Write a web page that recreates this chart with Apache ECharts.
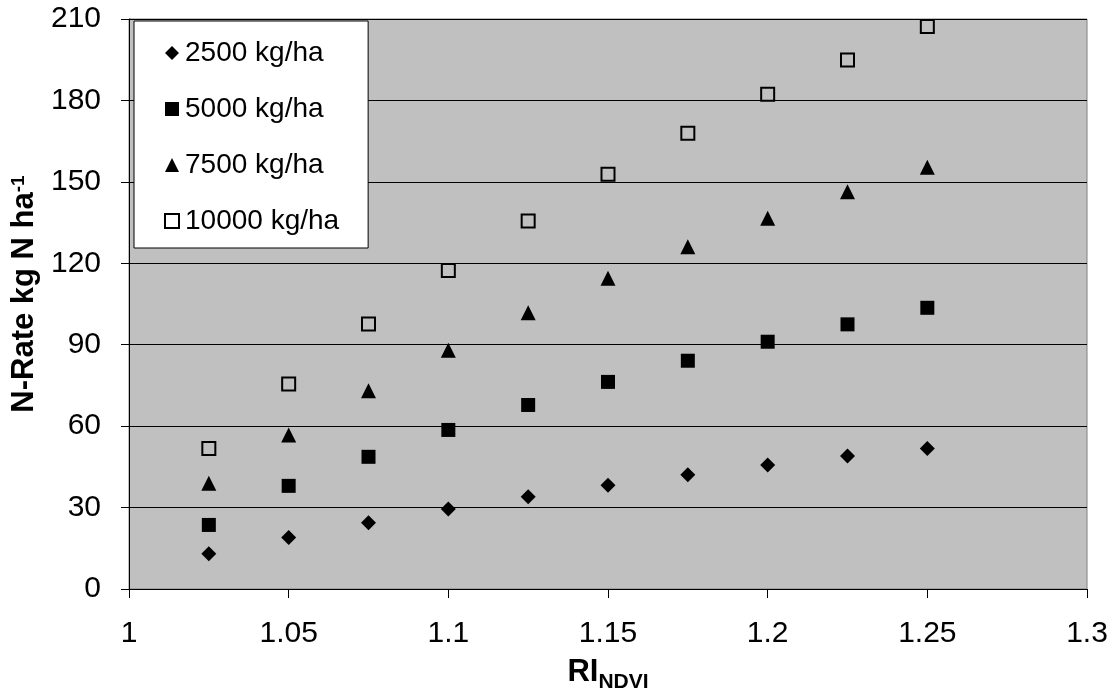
<!DOCTYPE html>
<html>
<head>
<meta charset="utf-8">
<script src="https://cdn.jsdelivr.net/npm/echarts@6/dist/echarts.min.js"></script>
<style>
  html, body { margin: 0; padding: 0; background: #ffffff; }
  #chart { width: 1115px; height: 698px; }
</style>
</head>
<body>
<div id="chart"></div>
<script>
// RI_NDVI values at which N rates were computed
const riNdvi = [1.025, 1.05, 1.075, 1.1, 1.125, 1.15, 1.175, 1.2, 1.225, 1.25];

// N rate (kg N/ha) for each yield potential level
const rate2500  = [13.0, 19.0, 24.4, 29.5, 34.0, 38.2, 42.1, 45.7, 49.0, 51.8];
const rate5000  = [23.6, 38.0, 48.7, 58.6, 67.8, 76.3, 84.1, 91.1, 97.5, 103.6];
const rate7500  = [39.0, 56.7, 73.0, 88.0, 101.8, 114.5, 126.1, 136.6, 146.4, 155.4];
const rate10000 = [51.8, 75.5, 97.6, 117.3, 135.6, 152.8, 167.9, 182.3, 194.9, 207.2];

const seriesNames = ['2500 kg/ha', '5000 kg/ha', '7500 kg/ha', '10000 kg/ha'];

// Axis ranges and tick steps
const xMin = 1, xMax = 1.3, xStep = 0.05;
const yMin = 0, yMax = 210, yStep = 30;

const FONT = '"Liberation Sans", Arial, Helvetica, sans-serif';

function pairs(ys) {
  return riNdvi.map((x, i) => [x, ys[i]]);
}

const chart = echarts.init(document.getElementById('chart'), null, { renderer: 'canvas' });

chart.setOption({
  animation: false,
  backgroundColor: '#ffffff',
  grid: {
    left: 129, right: 28, top: 19, bottom: 109,
    show: true,
    backgroundColor: '#c0c0c0',
    borderColor: '#808080',
    borderWidth: 1
  },
  legend: {
    orient: 'vertical',
    left: 134, top: 21,
    padding: [18, 29, 13, 30],
    itemGap: 28,
    itemWidth: 14, itemHeight: 14,
    backgroundColor: '#ffffff',
    borderColor: '#000000',
    borderWidth: 1,
    borderRadius: 0,
    textStyle: { fontFamily: FONT, fontSize: 28, color: '#000000', lineHeight: 28, padding: [0, 0, 0, 1] },
    data: seriesNames
  },
  xAxis: {
    type: 'value',
    min: xMin, max: xMax, interval: xStep,
    name: '{a|RI}{b|NDVI}',
    nameLocation: 'middle',
    nameGap: 68,
    nameTextStyle: {
      rich: {
        a: { fontFamily: FONT, fontSize: 31, fontWeight: 'bold', color: '#000', verticalAlign: 'top' },
        b: { fontFamily: FONT, fontSize: 21, fontWeight: 'bold', color: '#000', verticalAlign: 'top', padding: [15, 0, 0, 0] }
      }
    },
    axisLine: { show: true, onZero: false, lineStyle: { color: '#000000', width: 1 } },
    axisTick: { show: true, inside: false, length: 9, lineStyle: { color: '#000000', width: 1 } },
    axisLabel: { fontFamily: FONT, fontSize: 30, color: '#000000', margin: 30 },
    splitLine: { show: false }
  },
  yAxis: {
    type: 'value',
    min: yMin, max: yMax, interval: yStep,
    name: '{a|N-Rate kg N ha}{s|-1}',
    nameLocation: 'middle',
    nameGap: 77,
    nameRotate: 90,
    nameTextStyle: {
      padding: [0, 0, 0, 20],
      rich: {
        a: { fontFamily: FONT, fontSize: 31, fontWeight: 'bold', color: '#000', lineHeight: 31, verticalAlign: 'bottom' },
        s: { fontFamily: FONT, fontSize: 19, fontWeight: 'bold', color: '#000', lineHeight: 19, verticalAlign: 'top' }
      }
    },
    axisLine: { show: true, onZero: false, lineStyle: { color: '#000000', width: 1 } },
    axisTick: { show: true, inside: false, length: 8, lineStyle: { color: '#000000', width: 1 } },
    axisLabel: { fontFamily: FONT, fontSize: 30, color: '#000000', margin: 28 },
    splitLine: { show: true, lineStyle: { color: '#000000', width: 1 } }
  },
  series: [
    {
      name: seriesNames[0], type: 'scatter', data: pairs(rate2500),
      symbol: 'diamond', symbolSize: 15,
      itemStyle: { color: '#000000', opacity: 1 }
    },
    {
      name: seriesNames[1], type: 'scatter', data: pairs(rate5000),
      symbol: 'rect', symbolSize: 14,
      itemStyle: { color: '#000000', opacity: 1 }
    },
    {
      name: seriesNames[2], type: 'scatter', data: pairs(rate7500),
      symbol: 'triangle', symbolSize: 15,
      itemStyle: { color: '#000000', opacity: 1 }
    },
    {
      name: seriesNames[3], type: 'scatter', data: pairs(rate10000),
      symbol: 'rect', symbolSize: 13,
      itemStyle: { color: 'rgba(0,0,0,0)', borderColor: '#000000', borderWidth: 2, opacity: 1 }
    }
  ]
});
</script>
</body>
</html>
